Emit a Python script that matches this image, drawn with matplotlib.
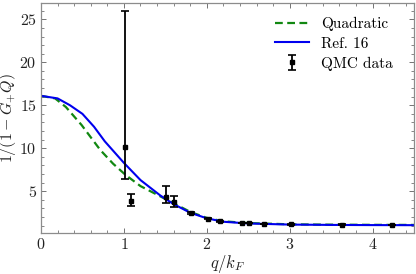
import matplotlib
matplotlib.use("Agg")
import matplotlib.pyplot as plt
from matplotlib.ticker import MultipleLocator

plt.rcParams['font.family'] = 'serif'
plt.rcParams['font.serif'] = ['cmr10']
plt.rcParams['mathtext.fontset'] = 'cm'
plt.rcParams['axes.formatter.use_mathtext'] = True
plt.rcParams['axes.unicode_minus'] = False

# Quadratic curve
quad_x = [0.0, 0.17, 0.3, 0.49, 0.715, 0.87, 1.02, 1.2, 1.44, 1.6, 1.8, 2.0, 2.2, 2.5, 3.0, 3.5, 4.0, 4.5]
quad_y = [16.1, 15.8, 14.8, 12.7, 9.8, 8.2, 6.9, 5.6, 4.4, 3.6, 2.6, 1.9, 1.5, 1.3, 1.15, 1.11, 1.09, 1.08]

# Ref. 16 curve
ref_x = [0.0, 0.2, 0.35, 0.5, 0.64, 0.77, 1.0, 1.2, 1.44, 1.6, 1.8, 2.0, 2.2, 2.5, 3.0, 3.5, 4.0, 4.5]
ref_y = [16.1, 15.8, 15.0, 14.0, 12.5, 10.8, 8.3, 6.3, 4.5, 3.5, 2.5, 1.85, 1.45, 1.25, 1.12, 1.08, 1.06, 1.05]

# QMC data
qmc_x = [1.01, 1.08, 1.51, 1.61, 1.81, 2.01, 2.16, 2.42, 2.51, 2.69, 3.02, 3.63, 4.23]
qmc_y = [10.15, 3.9, 4.3, 3.8, 2.45, 1.8, 1.5, 1.3, 1.3, 1.2, 1.15, 1.1, 1.08]
qmc_err_lo = [3.75, 0.65, 0.65, 0.6, 0.15, 0.08, 0.06, 0.05, 0.05, 0.04, 0.04, 0.04, 0.04]
qmc_err_hi = [15.85, 0.75, 1.3, 0.7, 0.15, 0.08, 0.06, 0.05, 0.05, 0.04, 0.04, 0.04, 0.04]

fig = plt.figure(figsize=(4.16, 2.74), dpi=100)
ax = fig.add_axes([41/416, 1-233/274, (414-41)/416, (233-3)/274])

ax.plot(quad_x, quad_y, color='#118811', ls=(0, (3.5, 2)), lw=1.6, label='Quadratic')
ax.plot(ref_x, ref_y, color='#0000ee', lw=1.5, label='Ref. 16')
ax.errorbar(qmc_x, qmc_y, yerr=[qmc_err_lo, qmc_err_hi], fmt='s', color='black',
            ms=3.5, capsize=3, elinewidth=1.3, capthick=1.2, label='QMC data')

ax.set_xlim(0, 4.5)
ax.set_ylim(0.14, 26.9)
ax.xaxis.set_major_locator(MultipleLocator(1))
ax.xaxis.set_minor_locator(MultipleLocator(0.2))
ax.yaxis.set_major_locator(MultipleLocator(5))
ax.yaxis.set_minor_locator(MultipleLocator(1))
ax.set_yticks([5, 10, 15, 20, 25])
ax.tick_params(which='both', direction='in', top=True, right=True, colors='0.45',
               labelcolor='#222222', labelsize=11.5, pad=3)
ax.tick_params(which='major', length=3.5, width=0.7)
ax.tick_params(which='minor', length=2, width=0.6)
for s in ax.spines.values():
    s.set_color('0.55')
    s.set_linewidth(0.9)

ax.set_xlabel('$q/k_F$', fontsize=12, va='center', color='#222222')
ax.xaxis.set_label_coords(0.5, -0.135)
ax.set_ylabel('$1/(1-G_{+}Q)$', fontsize=11.5, va='center', color='#222222')
ax.yaxis.set_label_coords(-0.087, 0.5)

ax.legend(loc='upper right', frameon=False, fontsize=11, handlelength=2.2,
          borderaxespad=0, borderpad=0, labelspacing=0.38, handletextpad=0.8,
          bbox_to_anchor=(0.944, 0.94))

fig.savefig('out.png', dpi=100)
